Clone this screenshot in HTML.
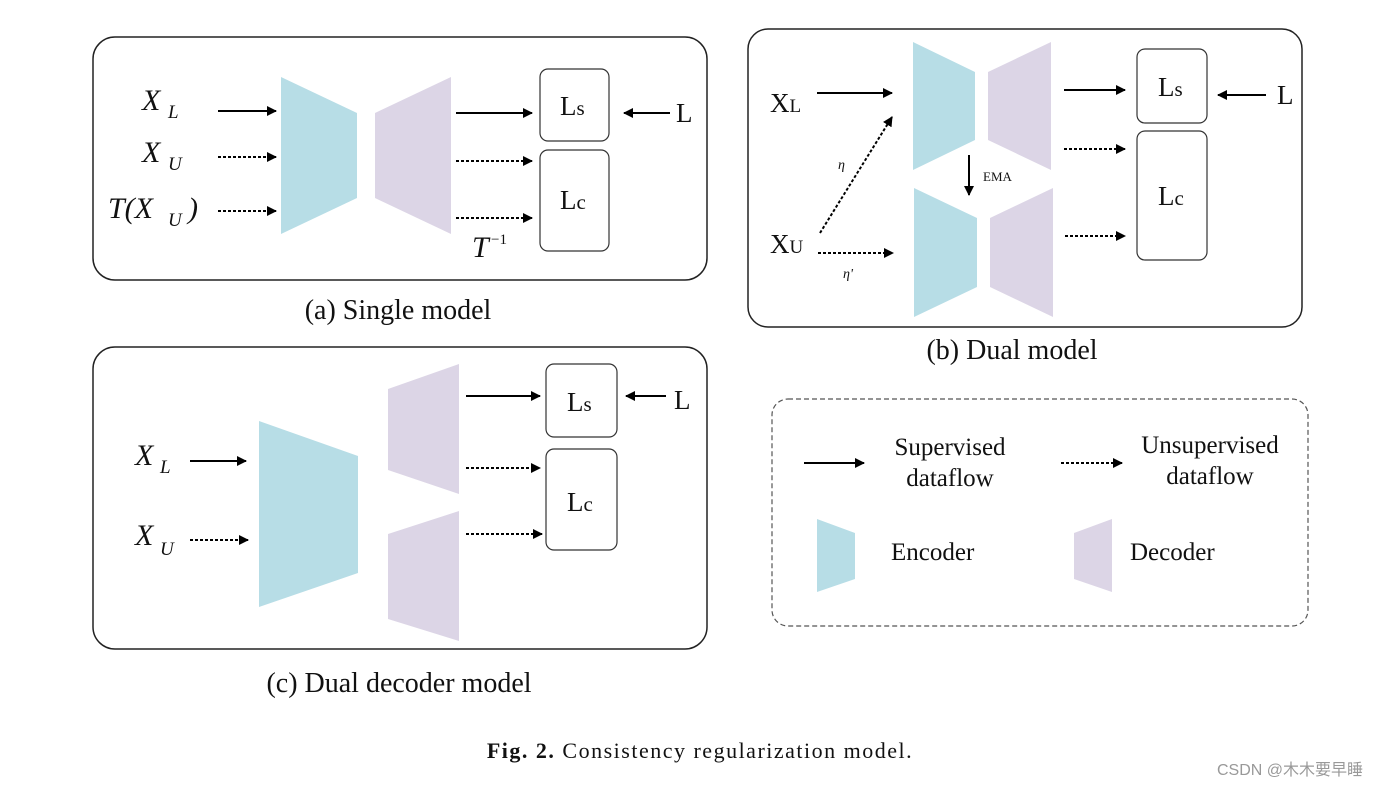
<!DOCTYPE html>
<html><head><meta charset="utf-8"><style>
html,body{margin:0;padding:0;background:#fff;}
svg{display:block;}
text{font-family:"Liberation Serif",serif;fill:#111;}
</style></head><body>
<svg width="1391" height="787" viewBox="0 0 1391 787" xmlns="http://www.w3.org/2000/svg">
<defs>
<marker id="ah" markerWidth="10" markerHeight="10" refX="9" refY="5" orient="auto" markerUnits="userSpaceOnUse">
<path d="M0,0 L10,5 L0,10 z" fill="#000"/></marker>
</defs>
<g stroke="#000" stroke-width="2" fill="none">
<rect x="93" y="37" width="614" height="243" rx="22" stroke="#222" stroke-width="1.5"/>
<rect x="748" y="29" width="554" height="298" rx="20" stroke="#222" stroke-width="1.5"/>
<rect x="93" y="347" width="614" height="302" rx="22" stroke="#222" stroke-width="1.5"/>
<rect x="772" y="399" width="536" height="227" rx="16" stroke="#555" stroke-width="1.2" stroke-dasharray="5,3"/>
</g>
<g stroke="none">
<polygon points="281,77 357,113 357,198 281,234" fill="#b7dde6"/>
<polygon points="375,113 451,77 451,234 375,198" fill="#dcd5e6"/>
<polygon points="913,42 975,72 975,140 913,170" fill="#b7dde6"/>
<polygon points="988,72 1051,42 1051,170 988,140" fill="#dcd5e6"/>
<polygon points="914,188 977,218 977,287 914,317" fill="#b7dde6"/>
<polygon points="990,218 1053,188 1053,317 990,287" fill="#dcd5e6"/>
<polygon points="259,421 358,456 358,573 259,607" fill="#b7dde6"/>
<polygon points="388,389 459,364 459,494 388,470" fill="#dcd5e6"/>
<polygon points="388,534 459,511 459,641 388,619" fill="#dcd5e6"/>
<polygon points="817,519 855,533 855,579 817,592" fill="#b7dde6"/>
<polygon points="1074,533 1112,519 1112,592 1074,579" fill="#dcd5e6"/>
</g>
<g stroke="#333" stroke-width="1.2" fill="#fff">
<rect x="540" y="69" width="69" height="72" rx="8"/>
<rect x="540" y="150" width="69" height="101" rx="8"/>
<rect x="1137" y="49" width="70" height="74" rx="8"/>
<rect x="1137" y="131" width="70" height="129" rx="8"/>
<rect x="546" y="364" width="71" height="73" rx="8"/>
<rect x="546" y="449" width="71" height="101" rx="8"/>
</g>
<g stroke="#000" stroke-width="2" fill="none" marker-end="url(#ah)">
<line x1="218" y1="111" x2="276" y2="111"/>
<line x1="218" y1="157" x2="276" y2="157" stroke-dasharray="3,2"/>
<line x1="218" y1="211" x2="276" y2="211" stroke-dasharray="3,2"/>
<line x1="456" y1="113" x2="532" y2="113"/>
<line x1="456" y1="161" x2="532" y2="161" stroke-dasharray="3,2"/>
<line x1="456" y1="218" x2="532" y2="218" stroke-dasharray="3,2"/>
<line x1="670" y1="113" x2="624" y2="113"/>
<line x1="817" y1="93" x2="892" y2="93"/>
<line x1="820" y1="233" x2="892" y2="117" stroke-dasharray="3,2"/>
<line x1="818" y1="253" x2="893" y2="253" stroke-dasharray="3,2"/>
<line x1="1064" y1="90" x2="1125" y2="90"/>
<line x1="1064" y1="149" x2="1125" y2="149" stroke-dasharray="3,2"/>
<line x1="1065" y1="236" x2="1125" y2="236" stroke-dasharray="3,2"/>
<line x1="1266" y1="95" x2="1218" y2="95"/>
<line x1="969" y1="155" x2="969" y2="195"/>
<line x1="190" y1="461" x2="246" y2="461"/>
<line x1="190" y1="540" x2="248" y2="540" stroke-dasharray="3,2"/>
<line x1="466" y1="396" x2="540" y2="396"/>
<line x1="466" y1="468" x2="540" y2="468" stroke-dasharray="3,2"/>
<line x1="466" y1="534" x2="542" y2="534" stroke-dasharray="3,2"/>
<line x1="666" y1="396" x2="626" y2="396"/>
<line x1="804" y1="463" x2="864" y2="463"/>
<line x1="1061" y1="463" x2="1122" y2="463" stroke-dasharray="3,2"/>
</g>
<g font-size="30" font-style="italic">
<text x="142" y="110">X</text><text x="168" y="118" font-size="19">L</text>
<text x="142" y="162">X</text><text x="168" y="170" font-size="19">U</text>
<text x="108" y="218">T(X</text><text x="168" y="226" font-size="19">U</text><text x="188" y="218">)</text>
<text x="472" y="257">T</text><text x="491" y="244" font-size="15" font-style="normal">−1</text>
</g>
<g font-size="27">
<text x="560" y="115">L<tspan font-size="21">s</tspan></text>
<text x="560" y="209">L<tspan font-size="21">c</tspan></text>
<text x="676" y="122">L</text>
<text x="1158" y="96">L<tspan font-size="21">s</tspan></text>
<text x="1158" y="205">L<tspan font-size="21">c</tspan></text>
<text x="1277" y="104">L</text>
<text x="770" y="112">X<tspan font-size="19">L</tspan></text>
<text x="770" y="253">X<tspan font-size="19">U</tspan></text>
<text x="567" y="411">L<tspan font-size="21">s</tspan></text>
<text x="567" y="511">L<tspan font-size="21">c</tspan></text>
<text x="674" y="409">L</text>
</g>
<text x="838" y="169" font-size="14" font-style="italic">η</text>
<text x="843" y="278" font-size="14" font-style="italic">η'</text>
<text x="983" y="181" font-size="13">EMA</text>
<g font-size="30" font-style="italic">
<text x="135" y="465">X</text><text x="160" y="473" font-size="19">L</text>
<text x="135" y="545">X</text><text x="160" y="555" font-size="19">U</text>
</g>
<g font-size="25" text-anchor="middle">
<text x="950" y="455">Supervised</text>
<text x="950" y="486">dataflow</text>
<text x="1210" y="453">Unsupervised</text>
<text x="1210" y="484">dataflow</text>
</g>
<text x="891" y="560" font-size="25">Encoder</text>
<text x="1130" y="560" font-size="25">Decoder</text>
<g font-size="28" text-anchor="middle">
<text x="398" y="319">(a) Single model</text>
<text x="1012" y="359">(b) Dual model</text>
<text x="399" y="692">(c) Dual decoder model</text>
</g>
<text x="700" y="758" font-size="22" letter-spacing="1.5" text-anchor="middle"><tspan font-weight="bold">Fig. 2.</tspan> Consistency regularization model.</text>
<text x="1290" y="775" font-size="16" text-anchor="middle" style="font-family:'Liberation Sans','Noto Sans CJK SC',sans-serif;fill:#999">CSDN @木木要早睡</text>
</svg>
</body></html>
